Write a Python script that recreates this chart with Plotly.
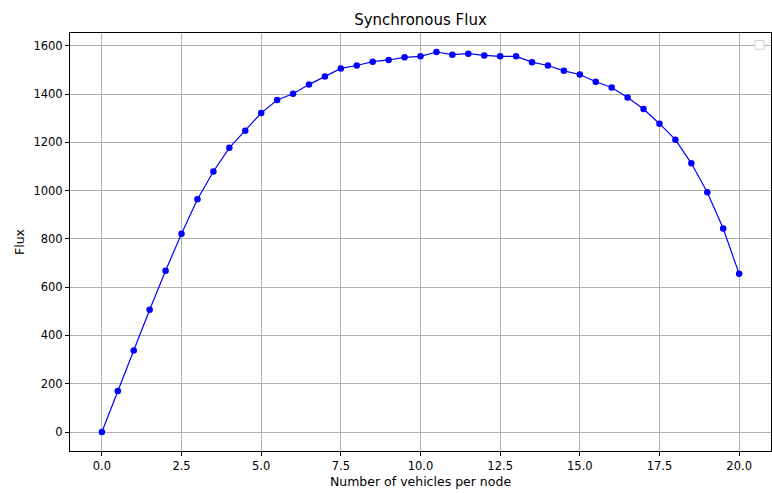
import plotly.graph_objects as go

vehicles = [0.0, 0.5, 1.0, 1.5, 2.0, 2.5, 3.0, 3.5, 4.0, 4.5, 5.0, 5.5, 6.0, 6.5, 7.0,
            7.5, 8.0, 8.5, 9.0, 9.5, 10.0, 10.5, 11.0, 11.5, 12.0, 12.5, 13.0, 13.5,
            14.0, 14.5, 15.0, 15.5, 16.0, 16.5, 17.0, 17.5, 18.0, 18.5, 19.0, 19.5, 20.0]
flux = [0, 170, 338, 506, 668, 821, 964, 1079, 1177, 1248, 1321, 1375, 1401, 1439, 1473,
        1506, 1518, 1534, 1541, 1552, 1556, 1574, 1563, 1567, 1560, 1556, 1556, 1532,
        1518, 1496, 1481, 1451, 1427, 1386, 1338, 1277, 1211, 1113, 993, 843, 655]

x_ticks = [0, 2.5, 5, 7.5, 10, 12.5, 15, 17.5, 20]
x_ticktext = ["0.0", "2.5", "5.0", "7.5", "10.0", "12.5", "15.0", "17.5", "20.0"]
y_ticks = [0, 200, 400, 600, 800, 1000, 1200, 1400, 1600]

fig = go.Figure()
fig.add_trace(go.Scatter(
    x=vehicles, y=flux, mode="lines+markers",
    line=dict(color="#0000ff", width=1.2),
    marker=dict(color="#0000ff", size=6.5),
    showlegend=False,
))

font = "DejaVu Sans"
axis_common = dict(
    showline=True, linecolor="black", linewidth=1, mirror=True,
    showgrid=True, gridcolor="#b0b0b0", gridwidth=1,
    ticks="outside", ticklen=4, tickwidth=1, tickcolor="black",
    tickfont=dict(family=font, size=11.5, color="black"),
    zeroline=False,
)

fig.update_layout(
    width=772, height=493,
    margin=dict(l=70, r=1, t=33, b=42),
    paper_bgcolor="white", plot_bgcolor="white",
    title=dict(text="Synchronous Flux", font=dict(family=font, size=15, color="black"),
               x=0.5, xref="paper", y=1 - 20 / 493, yref="container",
               xanchor="center", yanchor="middle"),
    xaxis=dict(range=[-1, 21], tickvals=x_ticks, ticktext=x_ticktext,
               title=dict(text="Number of vehicles per node",
                          font=dict(family=font, size=12.5, color="black"), standoff=5),
               **axis_common),
    yaxis=dict(range=[-78.7, 1652.7], tickvals=y_ticks,
               title=dict(text="Flux", font=dict(family=font, size=12.5, color="black"), standoff=6),
               **axis_common),
    shapes=[dict(type="rect", xref="paper", yref="paper",
                 x0=0.977, x1=0.990, y0=0.961, y1=0.982,
                 line=dict(color="#d0d0d0", width=1), fillcolor="white")],
)

fig.write_html("out.html")
